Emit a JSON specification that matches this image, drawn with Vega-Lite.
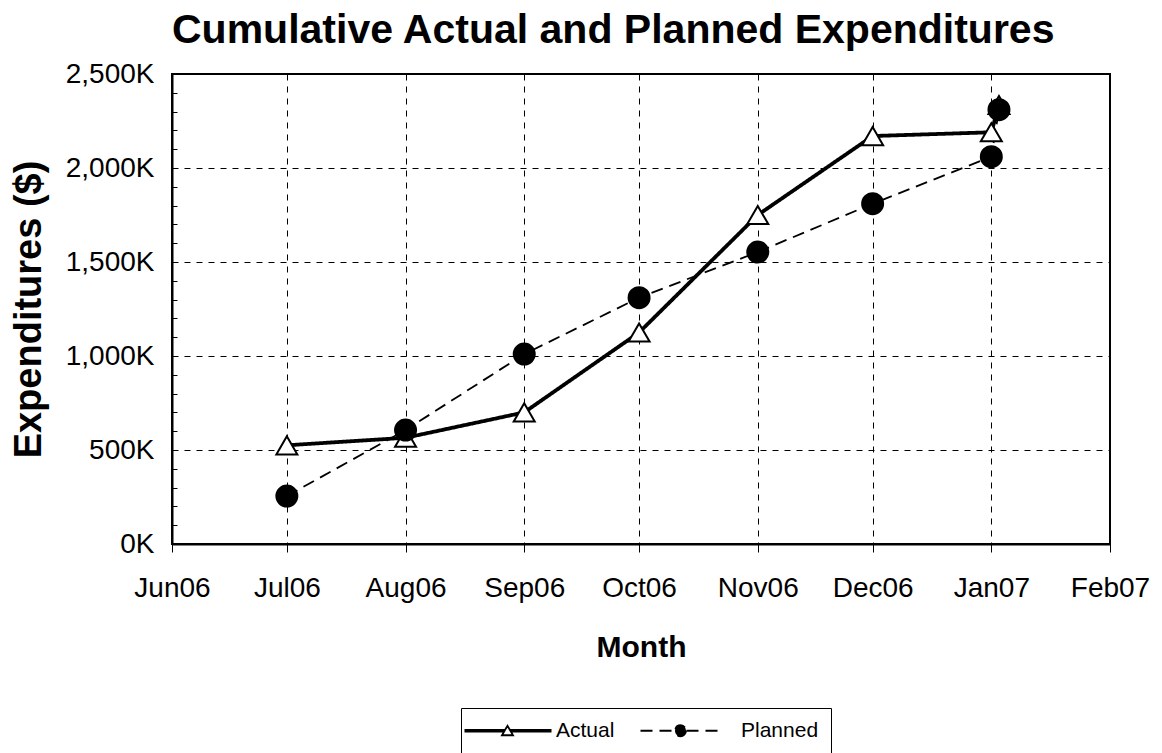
{
  "$schema": "https://vega.github.io/schema/vega-lite/v6.json",
  "width": 938,
  "height": 470,
  "autosize": {"type": "none"},
  "padding": {"left": 172, "top": 74, "right": 52, "bottom": 209},
  "background": "white",
  "title": {
    "text": "Cumulative Actual and Planned Expenditures",
    "anchor": "start",
    "frame": "group",
    "font": "Liberation Sans",
    "fontSize": 41,
    "fontWeight": "bold",
    "color": "black",
    "offset": 8
  },
  "config": {
    "view": {"stroke": "black", "strokeWidth": 2},
    "font": "Liberation Sans",
    "legend": {
      "orient": "none",
      "legendX": 289,
      "legendY": 634,
      "direction": "horizontal",
      "labelFontSize": 21,
      "labelColor": "black",
      "labelFont": "Liberation Sans",
      "strokeColor": "black",
      "fillColor": "white",
      "padding": 12,
      "symbolSize": 4,
      "symbolStrokeColor": "black",
      "symbolStrokeWidth": 1.8,
      "symbolOpacity": 1,
      "labelOffset": 62,
      "columnPadding": 21
    }
  },
  "data": {
    "values": [
      {"date": "2006-07-01", "series": "Actual", "value": 525000},
      {"date": "2006-08-01", "series": "Actual", "value": 565000},
      {"date": "2006-09-01", "series": "Actual", "value": 700000},
      {"date": "2006-10-01", "series": "Actual", "value": 1125000},
      {"date": "2006-11-01", "series": "Actual", "value": 1750000},
      {"date": "2006-12-01", "series": "Actual", "value": 2170000},
      {"date": "2007-01-01", "series": "Actual", "value": 2190000},
      {"date": "2007-01-03", "series": "Actual", "value": 2335000},
      {"date": "2006-07-01", "series": "Planned", "value": 255000},
      {"date": "2006-08-01", "series": "Planned", "value": 606000},
      {"date": "2006-09-01", "series": "Planned", "value": 1010000},
      {"date": "2006-10-01", "series": "Planned", "value": 1310000},
      {"date": "2006-11-01", "series": "Planned", "value": 1553000},
      {"date": "2006-12-01", "series": "Planned", "value": 1810000},
      {"date": "2007-01-01", "series": "Planned", "value": 2060000},
      {"date": "2007-01-03", "series": "Planned", "value": 2310000}
    ]
  },
  "encoding": {
    "x": {
      "field": "date",
      "type": "temporal",
      "scale": {"type": "utc", "domain": [{"year": 2006, "month": 6, "date": 1, "utc": true}, {"year": 2007, "month": 2, "date": 1, "utc": true}]},
      "axis": {
        "title": "Month",
        "format": "%b%y",
        "tickCount": {"interval": "month", "step": 1},
        "labelFontSize": 28,
        "labelColor": "black",
        "labelPadding": 22,
        "labelFlush": false,
        "labelOverlap": false,
        "tickSize": 8,
        "tickColor": "black",
        "tickWidth": 1,
        "domainColor": "black",
        "domainWidth": 2,
        "grid": true,
        "gridColor": "black",
        "gridDash": [6, 6],
        "gridWidth": 1,
        "gridOpacity": 1,
        "titleFontSize": 30,
        "titleFontWeight": "bold",
        "titleColor": "black",
        "titlePadding": 30
      }
    },
    "y": {
      "field": "value",
      "type": "quantitative",
      "scale": {"domain": [0, 2500000], "nice": false},
      "axis": {
        "title": "Expenditures ($)",
        "values": [0, 100000, 200000, 300000, 400000, 500000, 600000, 700000, 800000, 900000, 1000000, 1100000, 1200000, 1300000, 1400000, 1500000, 1600000, 1700000, 1800000, 1900000, 2000000, 2100000, 2200000, 2300000, 2400000, 2500000],
        "labelExpr": "datum.value % 500000 === 0 ? format(datum.value / 1000, ',') + 'K' : ''",
        "labelFontSize": 28,
        "labelColor": "black",
        "labelPadding": 23,
        "labelOverlap": false,
        "tickSize": -5,
        "tickColor": "black",
        "tickWidth": 1,
        "domainColor": "black",
        "domainWidth": 2,
        "grid": true,
        "gridColor": "black",
        "gridDash": [6, 6],
        "gridWidth": 1,
        "gridOpacity": {"condition": {"test": "datum.value % 500000 === 0", "value": 1}, "value": 0},
        "titleFontSize": 38,
        "titleFontWeight": "bold",
        "titleColor": "black",
        "titlePadding": 17
      }
    }
  },
  "layer": [
    {
      "transform": [{"filter": "datum.series === 'Planned'"}],
      "mark": {"type": "line", "color": "black", "strokeWidth": 1.8},
      "encoding": {
        "strokeDash": {
          "field": "series",
          "type": "nominal",
          "scale": {"domain": ["Actual", "Planned"], "range": [[1, 0], [12, 7]]},
          "legend": {
            "title": null,
            "symbolType": {"expr": "datum.value === 'Actual' ? 'M-19,-0.9H21M-19,0.9H21M27,-0.9H68M27,0.9H68M24,-5L29.5,4.5L18.5,4.5Z' : 'M-28,0H6M18,0H55M17.5,0A5.5,5.5 0 1,1 6.5,0A5.5,5.5 0 1,1 17.5,0Z'"},
            "symbolFillColor": {"expr": "datum.value === 'Actual' ? 'white' : 'black'"}
          }
        }
      }
    },
    {
      "transform": [{"filter": "datum.series === 'Actual'"}],
      "mark": {"type": "line", "color": "black", "strokeWidth": 3.8},
      "encoding": {
        "strokeDash": {
          "field": "series",
          "type": "nominal",
          "scale": {"domain": ["Actual", "Planned"], "range": [[1, 0], [12, 7]]},
          "legend": {
            "title": null,
            "symbolType": {"expr": "datum.value === 'Actual' ? 'M-19,-0.9H21M-19,0.9H21M27,-0.9H68M27,0.9H68M24,-5L29.5,4.5L18.5,4.5Z' : 'M-28,0H6M18,0H55M17.5,0A5.5,5.5 0 1,1 6.5,0A5.5,5.5 0 1,1 17.5,0Z'"},
            "symbolFillColor": {"expr": "datum.value === 'Actual' ? 'white' : 'black'"}
          }
        }
      }
    },
    {
      "transform": [{"filter": "datum.series === 'Actual'"}],
      "mark": {"type": "point", "shape": "triangle-up", "filled": true, "fill": "white", "stroke": "black", "strokeWidth": 2, "size": 441, "opacity": 1}
    },
    {
      "transform": [{"filter": "datum.series === 'Planned'"}],
      "mark": {"type": "point", "shape": "circle", "filled": true, "fill": "black", "stroke": "black", "strokeWidth": 2, "size": 441, "opacity": 1}
    }
  ]
}
